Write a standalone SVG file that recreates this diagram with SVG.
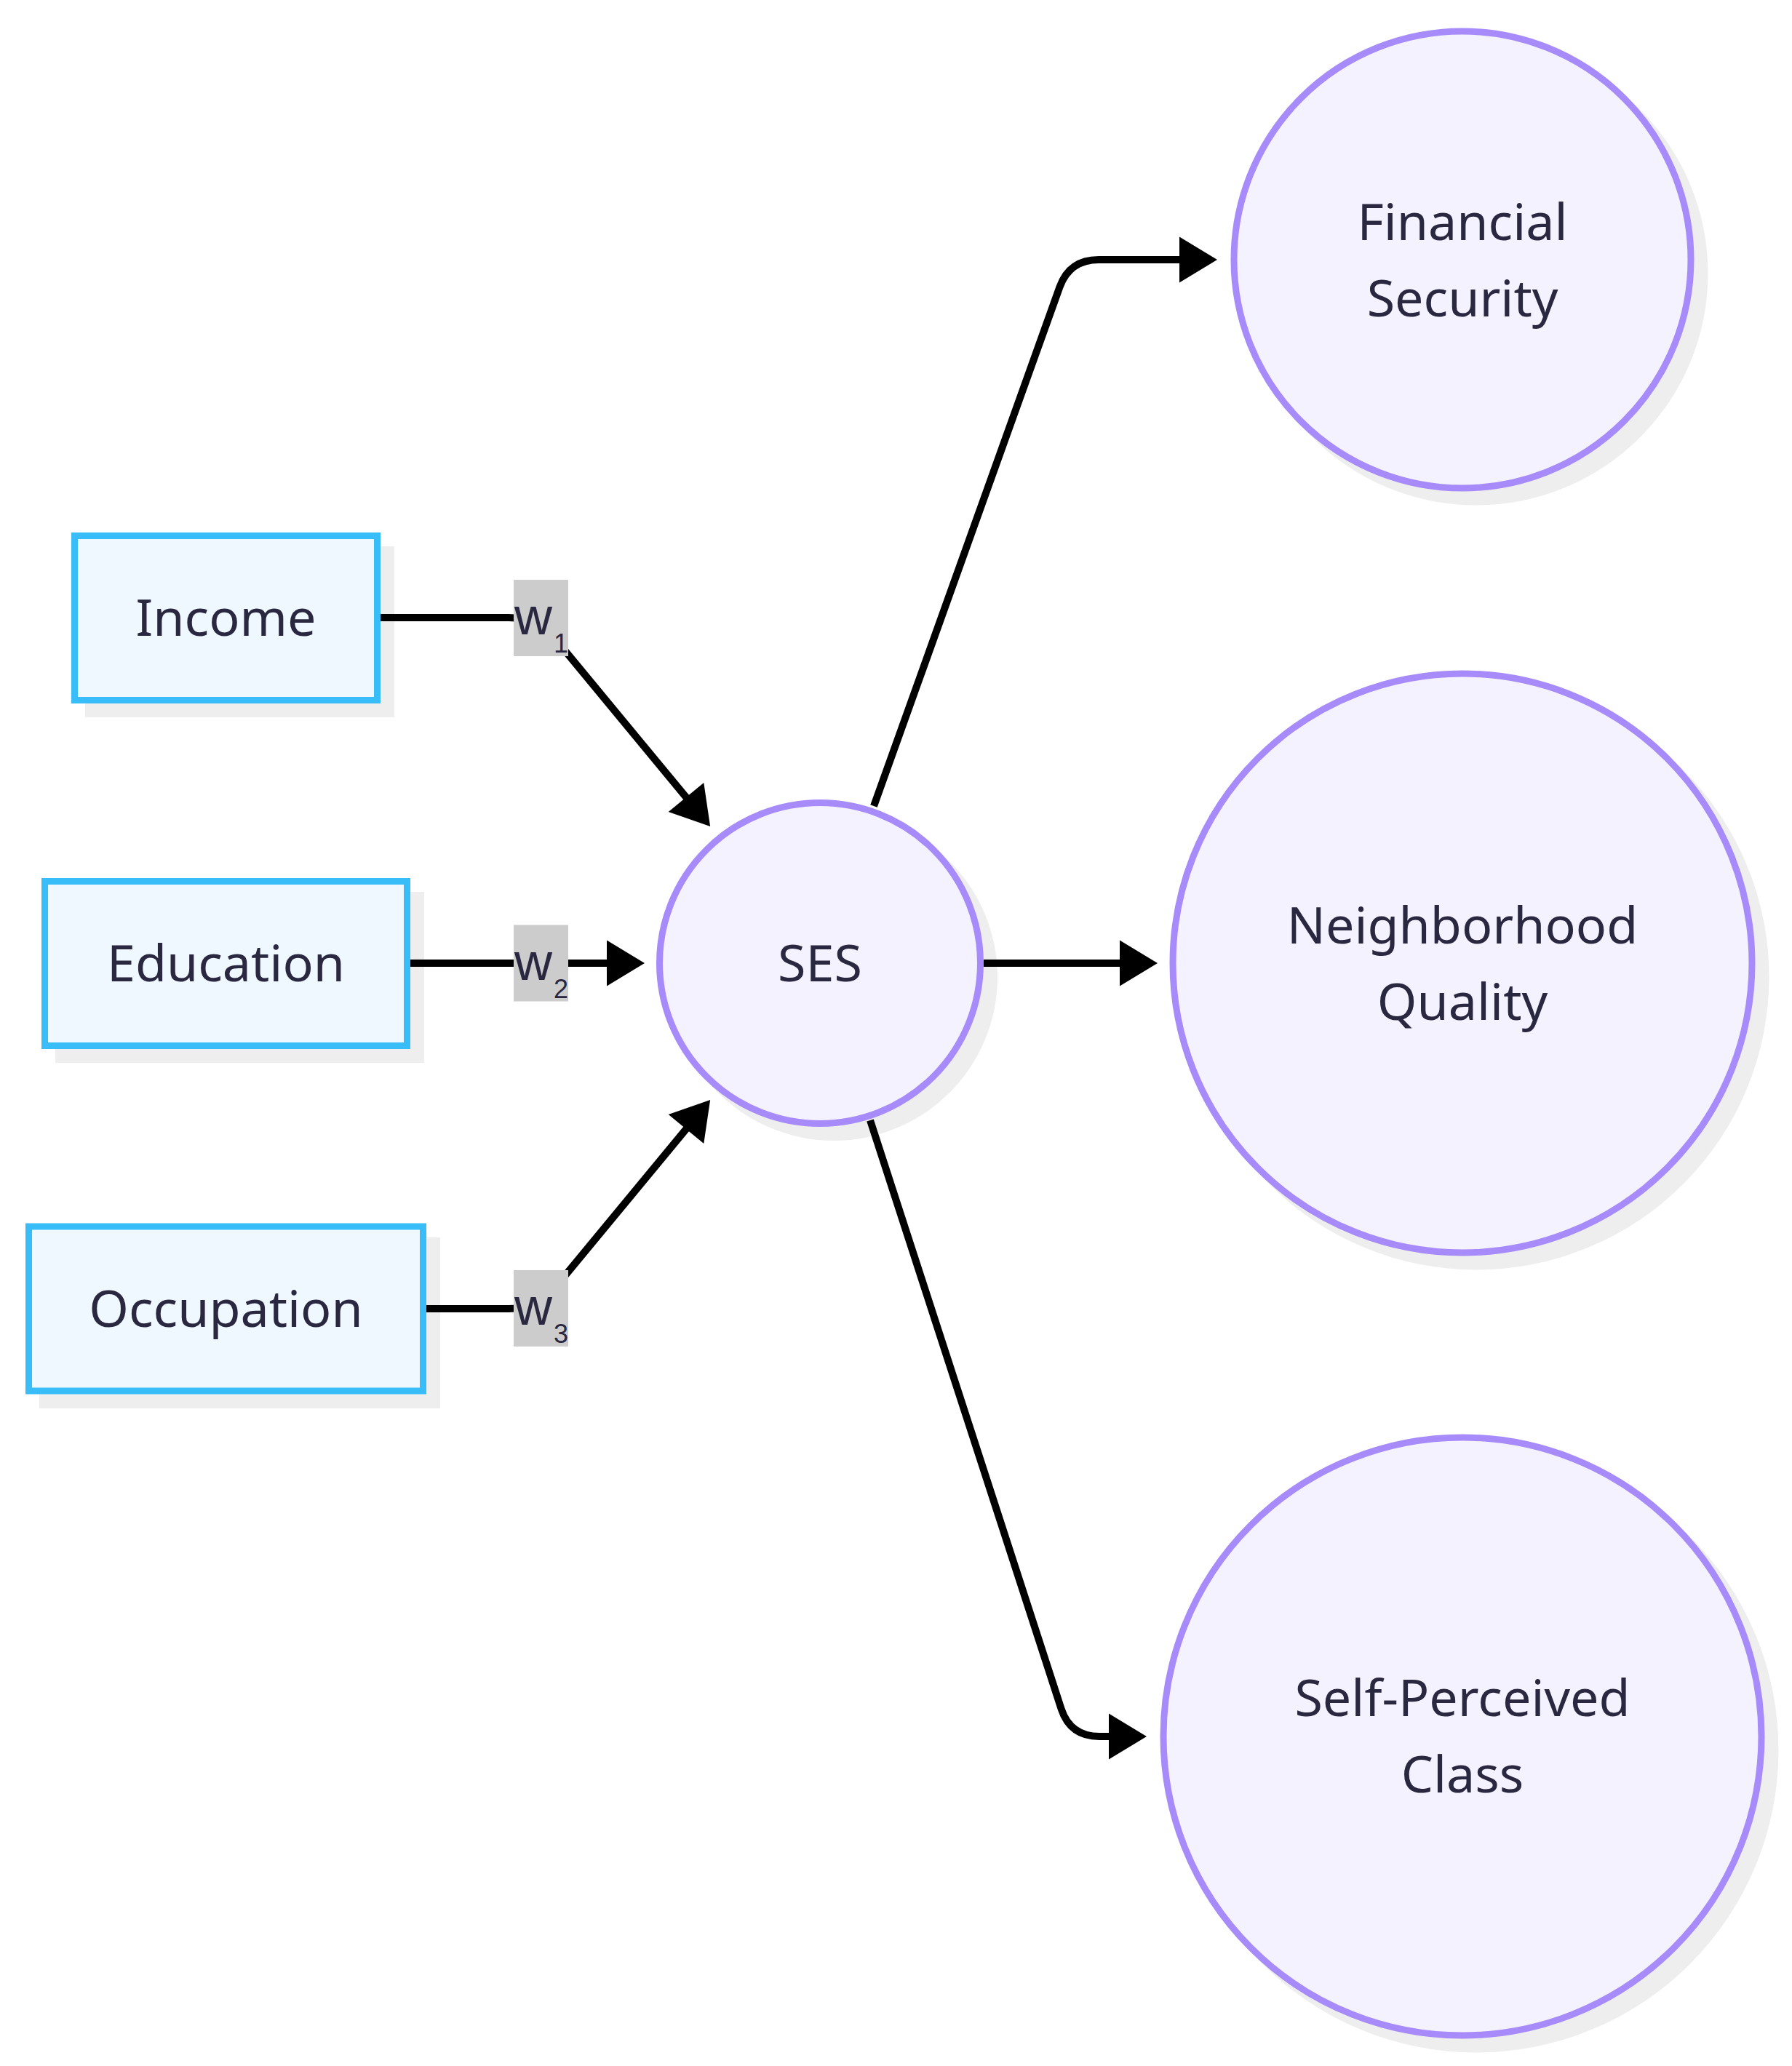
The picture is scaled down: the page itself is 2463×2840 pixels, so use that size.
<svg xmlns="http://www.w3.org/2000/svg" width="2463" height="2840" viewBox="0 0 2463 2840">
<style>
.bg{fill:#ffffff}
.shadow{fill:#eeeeee}
.box{fill:#f0f8ff;stroke:#38bdf8;stroke-width:9}
.circ{fill:#f4f2fe;stroke:#a78bfa;stroke-width:9}
.lbl{font-family:"Noto Sans","Open Sans","DejaVu Sans",sans-serif;font-size:70px;fill:#2a2740;text-anchor:middle}
.edge{fill:none;stroke:#000000;stroke-width:10;stroke-linejoin:round;marker-end:url(#arrow)}
.elbg{fill:#cccccc}
.eltxt{font-family:"Liberation Sans",Arial,sans-serif;font-size:72px;fill:#2a2740}
</style>
<defs>
<marker id="arrow" markerUnits="userSpaceOnUse" markerWidth="52" markerHeight="63" refX="5" refY="31.5" orient="auto" overflow="visible">
<path d="M0,0 L52,31.5 L0,63 Z" fill="#000000"/>
</marker>
</defs>
<rect class="bg" x="0" y="0" width="2463" height="2840"/>
<g id="nodes">
<g id="node-income">
<rect class="shadow" x="117" y="751" width="425" height="235"/>
<rect class="box" x="102.5" y="736.5" width="416" height="226"/>
<text class="lbl" x="310.5" y="874">Income</text>
</g>
<g id="node-education">
<rect class="shadow" x="76" y="1226" width="507" height="235"/>
<rect class="box" x="61.5" y="1211.5" width="498" height="226"/>
<text class="lbl" x="310.5" y="1349">Education</text>
</g>
<g id="node-occupation">
<rect class="shadow" x="54" y="1701" width="551" height="235"/>
<rect class="box" x="39.5" y="1686" width="542" height="226"/>
<text class="lbl" x="310.5" y="1824">Occupation</text>
</g>
<g id="node-ses">
<circle class="shadow" cx="1146" cy="1343" r="225"/>
<circle class="circ" cx="1127" cy="1324" r="220.5"/>
<text class="lbl" x="1127" y="1349">SES</text>
</g>
<g id="node-financial">
<circle class="shadow" cx="2029" cy="376" r="318.5"/>
<circle class="circ" cx="2010" cy="357" r="314"/>
<text class="lbl" x="2010" y="330">Financial</text>
<text class="lbl" x="2010" y="435">Security</text>
</g>
<g id="node-neighborhood">
<circle class="shadow" cx="2029" cy="1343" r="402.5"/>
<circle class="circ" cx="2010" cy="1324" r="398"/>
<text class="lbl" x="2010" y="1297">Neighborhood</text>
<text class="lbl" x="2010" y="1402">Quality</text>
</g>
<g id="node-selfclass">
<circle class="shadow" cx="2029" cy="2406" r="415.5"/>
<circle class="circ" cx="2010" cy="2387" r="411"/>
<text class="lbl" x="2010" y="2359">Self-Perceived</text>
<text class="lbl" x="2010" y="2464">Class</text>
</g>
</g>
<g id="connectors">
<path id="e-income-ses" class="edge" d="M523,849 H699 Q739,849 764.4,879.8 L946.2,1099.8"/>
<path id="e-education-ses" class="edge" d="M564,1324 H839"/>
<path id="e-occupation-ses" class="edge" d="M586,1799 H699 Q739,1799 764.4,1768.2 L946.2,1548.2"/>
<path id="e-ses-financial" class="edge" d="M1201,1108 L1456.5,394.5 Q1470,357 1510,357 L1626,357"/>
<path id="e-ses-neighborhood" class="edge" d="M1352,1324 H1544"/>
<path id="e-ses-selfclass" class="edge" d="M1196,1540 L1458.6,2349 Q1471,2387 1511,2387 L1529,2387"/>
</g>
<g id="edge-labels">
<g id="label-w1">
<rect class="elbg" x="706" y="797" width="75" height="105"/>
<text class="eltxt" x="707" y="872">w<tspan font-size="36" dx="2" dy="25">1</tspan></text>
</g>
<g id="label-w2">
<rect class="elbg" x="706" y="1271.5" width="75" height="105"/>
<text class="eltxt" x="707" y="1346.5">w<tspan font-size="36" dx="2" dy="25">2</tspan></text>
</g>
<g id="label-w3">
<rect class="elbg" x="706" y="1746" width="75" height="105"/>
<text class="eltxt" x="707" y="1821">w<tspan font-size="36" dx="2" dy="25">3</tspan></text>
</g>
</g>
</svg>
